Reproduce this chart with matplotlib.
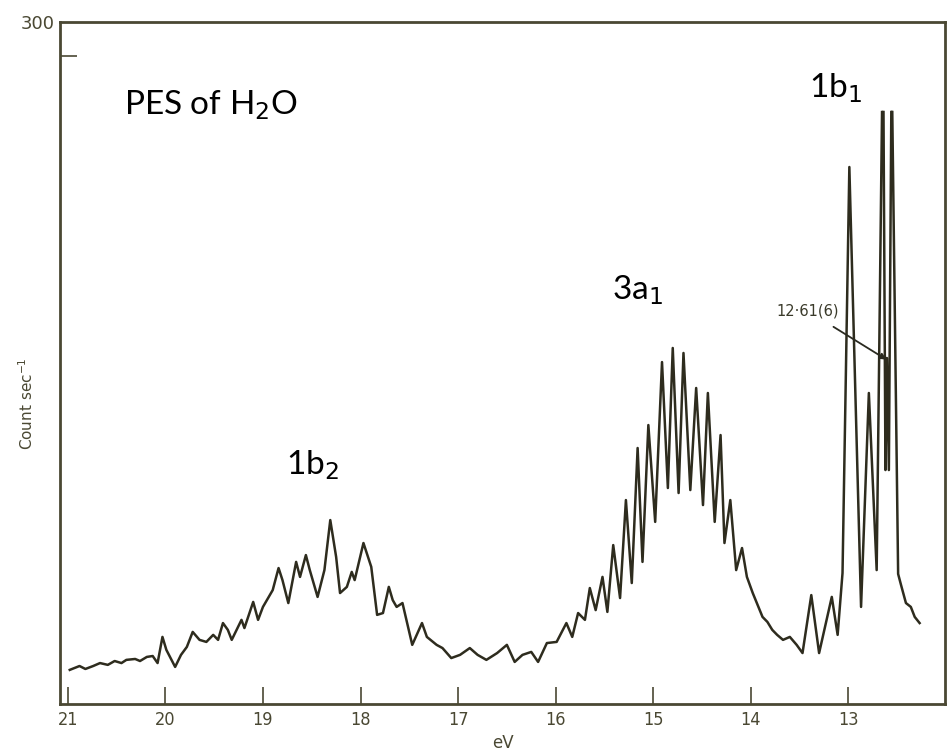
import numpy as np
import matplotlib
matplotlib.use("Agg")
import matplotlib.pyplot as plt

# Binding energy (eV) and signal (count/sec)
energy_ev = [20.98, 20.88, 20.82, 20.74, 20.67, 20.59, 20.52, 20.45, 20.40, 20.31,
             20.26, 20.19, 20.13, 20.08, 20.03, 19.99, 19.90, 19.84, 19.78, 19.72,
             19.65, 19.58, 19.51, 19.46, 19.41, 19.36, 19.32, 19.22, 19.19, 19.10,
             19.05, 19.00, 18.90, 18.84, 18.80, 18.74, 18.66, 18.62, 18.56, 18.52,
             18.44, 18.37, 18.31, 18.25, 18.21, 18.14, 18.09, 18.06, 17.97, 17.89,
             17.83, 17.77, 17.71, 17.67, 17.63, 17.57, 17.47, 17.37, 17.32, 17.22,
             17.16, 17.07, 16.98, 16.88, 16.80, 16.71, 16.60, 16.50, 16.42, 16.34,
             16.25, 16.18, 16.09, 15.99, 15.89, 15.83, 15.77, 15.70, 15.65, 15.59,
             15.52, 15.47, 15.41, 15.34, 15.28, 15.22, 15.16, 15.11, 15.05, 14.98,
             14.91, 14.85, 14.80, 14.74, 14.69, 14.62, 14.56, 14.49, 14.44, 14.37,
             14.31, 14.27, 14.21, 14.15, 14.09, 14.04, 13.98, 13.93, 13.88, 13.83,
             13.78, 13.73, 13.67, 13.60, 13.53, 13.47, 13.38, 13.30, 13.17, 13.11,
             13.06, 12.99, 12.87, 12.79, 12.71, 12.655, np.nan, 12.64, 12.62, 12.605,
             12.585, 12.56, np.nan, 12.55, 12.49, 12.46, 12.41, 12.36, 12.32, 12.27]
counts = [15.0, 16.7, 15.4, 16.7, 18.0, 17.2, 18.9, 18.0, 19.4, 19.8,
          18.9, 20.7, 21.1, 18.0, 29.5, 23.8, 16.3, 21.6, 25.1, 31.7,
          28.2, 27.3, 30.4, 28.2, 35.6, 32.6, 28.2, 37.0, 33.4, 44.9,
          37.0, 42.7, 50.1, 59.8, 54.5, 44.4, 62.5, 55.9, 65.5, 58.9,
          47.1, 58.9, 80.9, 64.7, 48.8, 51.5, 58.1, 54.5, 70.8, 60.3,
          39.2, 40.0, 51.5, 45.7, 42.7, 44.4, 26.0, 35.6, 29.5, 26.0,
          24.6, 20.2, 21.6, 24.6, 21.6, 19.4, 22.4, 26.0, 18.5, 21.6,
          22.9, 18.5, 26.8, 27.3, 35.6, 29.5, 40.0, 37.0, 51.0, 41.3,
          55.9, 40.5, 69.9, 46.6, 89.7, 53.2, 112.6, 62.5, 122.7, 80.1,
          150.4, 95.0, 156.6, 92.8, 154.4, 94.1, 139.0, 87.5, 136.8, 80.1,
          118.3, 70.8, 89.7, 58.9, 68.6, 55.9, 48.8, 43.5, 38.3, 36.1,
          32.6, 30.4, 28.2, 29.5, 26.0, 22.4, 47.9, 22.4, 47.1, 30.4,
          57.6, 236.2, 42.7, 136.8, 58.9, 260.4, np.nan, 260.4, 102.9, 152.2,
          102.9, 260.4, np.nan, 260.4, 57.2, 52.3, 44.4, 42.7, 38.3, 35.6]

x_ticks = [21, 20, 19, 18, 17, 16, 15, 14, 13]
x_tick_labels = ["21", "20", "19", "18", "17", "16", "15", "14", "13"]
band_labels = ["1b$_2$", "3a$_1$", "1b$_1$"]
band_pos = [(18.49, 105.0), (15.16, 182.0), (13.13, 271.0)]

ink = "#2e2c1e"
axis_ink = "#4a4833"

fig = plt.figure(figsize=(9.48, 7.53), dpi=100)
ax = fig.add_axes([0.0633, 0.0651, 0.9335, 0.9057])

ax.plot(energy_ev, counts, color=ink, lw=1.8, solid_joinstyle="round")

ax.set_xlim(21.08, 12.01)
ax.set_ylim(0, 300)

for s in ax.spines.values():
    s.set_color(axis_ink)
    s.set_linewidth(2.0)

ax.set_xticks(x_ticks)
ax.set_xticklabels(x_tick_labels, fontsize=13, color=axis_ink, fontstretch="condensed")
ax.tick_params(axis="x", direction="in", length=12, width=1.2, color=axis_ink, pad=5)
ax.set_yticks([300])
ax.set_yticklabels(["300"], fontsize=13, color=axis_ink)
ax.tick_params(axis="y", direction="in", length=0, pad=4)
ax.set_yticks([285], minor=True)
ax.tick_params(axis="y", which="minor", direction="in", length=12, width=1.2, color=axis_ink)

ax.set_xlabel("eV", fontsize=12, color=axis_ink, labelpad=4)
ax.set_ylabel("Count sec$^{-1}$", fontsize=11, color=axis_ink)
ax.yaxis.set_label_coords(-0.027, 0.44)

ax.text(20.42, 263.5, "PES of H$_2$O", fontsize=24, family="Lato",
        ha="left", va="center", color="black")
for lab, (bx, by) in zip(band_labels, band_pos):
    ax.text(bx, by, lab, fontsize=24, family="Lato", ha="center", va="center", color="black")

ax.annotate("12·61(6)", xy=(12.61, 151.5), xytext=(13.42, 173.0),
            fontsize=10.5, color="#3a3a2a", ha="center", va="center",
            arrowprops=dict(arrowstyle="-|>", color="#2a2a20", lw=1.3,
                            shrinkA=8, shrinkB=0, mutation_scale=9))

fig.savefig("out.png", dpi=100)
